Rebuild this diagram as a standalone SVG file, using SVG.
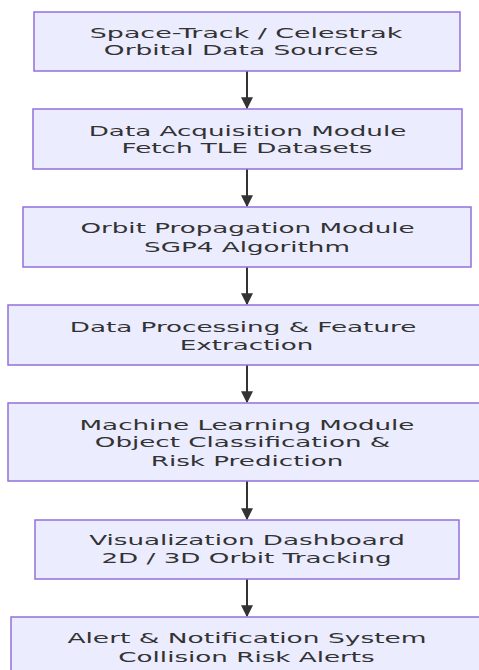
<svg xmlns="http://www.w3.org/2000/svg" width="479" height="670" viewBox="0 0 479 670">
<style>
.box{fill:#ECECFF;stroke:#9370DB;stroke-width:1.5}
.lbl{font-family:"DejaVu Sans",Verdana,sans-serif;font-size:14px;fill:#333;text-anchor:middle}
.edge{stroke:#333;stroke-width:2;fill:none}
</style>
<defs>
<marker id="arr" viewBox="0 0 10 10" refX="9" refY="5" markerUnits="userSpaceOnUse" markerWidth="12" markerHeight="12" orient="auto">
<path d="M0,0 L10,5 L0,10 z" fill="#333"/>
</marker>
</defs>
<rect width="479" height="670" fill="#fff"/>
<g id="connectors">
<line class="edge" x1="247" y1="71" x2="247" y2="108" marker-end="url(#arr)"/>
<line class="edge" x1="247" y1="169" x2="247" y2="206" marker-end="url(#arr)"/>
<line class="edge" x1="247" y1="267" x2="247" y2="304" marker-end="url(#arr)"/>
<line class="edge" x1="247" y1="365" x2="247" y2="402" marker-end="url(#arr)"/>
<line class="edge" x1="247" y1="481" x2="247" y2="519" marker-end="url(#arr)"/>
<line class="edge" x1="247" y1="579" x2="247" y2="616" marker-end="url(#arr)"/>
</g>
<g id="n1">
<rect class="box" x="34" y="12" width="426" height="59"/>
<text class="lbl" transform="translate(246 38) scale(1.92 1)">Space-Track / Celestrak</text>
<text class="lbl" transform="translate(241 55) scale(1.89 1)">Orbital Data Sources</text>
</g>
<g id="n2">
<rect class="box" x="33" y="109" width="429" height="60"/>
<text class="lbl" transform="translate(247.5 136) scale(1.87 1)">Data Acquisition Module</text>
<text class="lbl" transform="translate(247 153) scale(1.87 1)">Fetch TLE Datasets</text>
</g>
<g id="n3">
<rect class="box" x="23" y="207" width="448" height="60"/>
<text class="lbl" transform="translate(247.5 233) scale(1.87 1)">Orbit Propagation Module</text>
<text class="lbl" transform="translate(247 252) scale(1.87 1)">SGP4 Algorithm</text>
</g>
<g id="n4">
<rect class="box" x="8" y="305" width="480" height="60"/>
<text class="lbl" transform="translate(243 332) scale(1.87 1)">Data Processing &amp; Feature</text>
<text class="lbl" transform="translate(246.5 350) scale(1.87 1)">Extraction</text>
</g>
<g id="n5">
<rect class="box" x="8" y="403" width="480" height="78"/>
<text class="lbl" transform="translate(247 430) scale(1.87 1)">Machine Learning Module</text>
<text class="lbl" transform="translate(242.5 447) scale(1.87 1)">Object Classification &amp;</text>
<text class="lbl" transform="translate(247 466) scale(1.87 1)">Risk Prediction</text>
</g>
<g id="n6">
<rect class="box" x="35" y="520" width="424" height="59"/>
<text class="lbl" transform="translate(247 545) scale(1.87 1)">Visualization Dashboard</text>
<text class="lbl" transform="translate(246.5 563) scale(1.87 1)">2D / 3D Orbit Tracking</text>
</g>
<g id="n7">
<rect class="box" x="11" y="617" width="477" height="70"/>
<text class="lbl" transform="translate(247 643) scale(1.89 1)">Alert &amp; Notification System</text>
<text class="lbl" transform="translate(246.5 662) scale(1.87 1)">Collision Risk Alerts</text>
</g>
</svg>
